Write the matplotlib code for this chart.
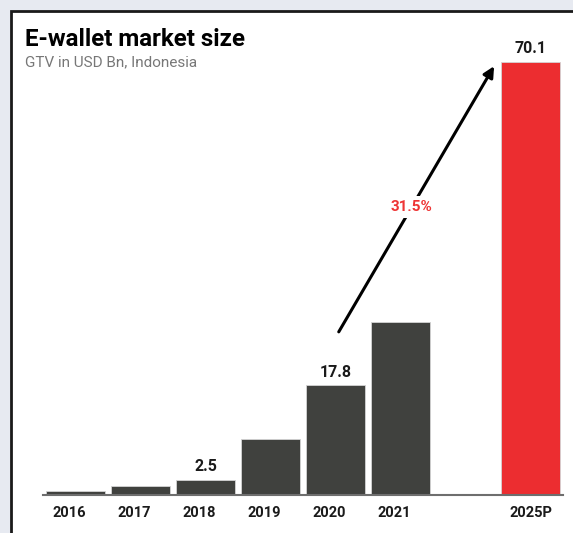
import matplotlib
matplotlib.use('Agg')
import matplotlib.pyplot as plt
from matplotlib.patches import Rectangle
from matplotlib.transforms import ScaledTranslation

# Data
years = ['2016', '2017', '2018', '2019', '2020', '2021', '2025P']
positions = [0, 1, 2, 3, 4, 5, 7]
gtv = [0.7, 1.4, 2.5, 9.0, 17.8, 28.0, 70.1]
labelled = ['2018', '2020', '2025P']
cagr_label = '31.5%'
arrow_start = (4.05, 26.4)
arrow_end = (6.44, 69.4)

plt.rcParams['font.family'] = ['Roboto', 'DejaVu Sans']

W, H = 573, 533
fig = plt.figure(figsize=(W / 100, H / 100), dpi=100)
fig.patch.set_facecolor('#e7eaf1')

# white card with a dark border on top and left
card = Rectangle((10.5 / W, -0.1), 1.2, (H - 11) / H + 0.1, transform=fig.transFigure,
                 facecolor='white', edgecolor='#1a1a1a', linewidth=2, zorder=-1)
fig.patches.append(card)

ax = fig.add_axes([43 / W, 38 / H, 520 / W, 482 / H])
ax.set_facecolor('none')
ax.set_zorder(2)

colors = ['#40413e'] * 6 + ['#ec2d30']
ax.bar(positions, gtv, width=0.9, color=colors, edgecolor='#d4d4d4', linewidth=0.6, zorder=2)

for pos, yr, val in zip(positions, years, gtv):
    if yr in labelled:
        ax.annotate(f'{val}', (pos, val), xytext=(0, 6), textcoords='offset points',
                    ha='center', va='baseline', fontsize=11.5, fontweight='bold', color='#1a1a1a')

ax.set_xlim(-0.5, 7.5)
ax.set_ylim(0, 78)
ax.set_xticks(positions)
ax.set_xticklabels(years, fontsize=10.5, fontweight='bold', color='#1a1a1a')
ax.tick_params(axis='x', length=0, pad=8)
# labels in the original sit a little left of the bar centres
for lbl in ax.get_xticklabels()[:-1]:
    lbl.set_transform(lbl.get_transform() + ScaledTranslation(-6 / 100, 0, fig.dpi_scale_trans))
ax.set_yticks([])
for s in ['top', 'right', 'left']:
    ax.spines[s].set_visible(False)
ax.spines['bottom'].set_color('#6e6e6e')
ax.spines['bottom'].set_linewidth(1.5)

# growth arrow
ax.annotate('', xy=arrow_end, xytext=arrow_start,
            arrowprops=dict(arrowstyle='-|>', color='black', lw=2.2, mutation_scale=16,
                            shrinkA=0, shrinkB=0), zorder=3)
mid_x = (arrow_start[0] + arrow_end[0]) / 2 - 0.07
mid_y = (arrow_start[1] + arrow_end[1]) / 2 - 1.3
ax.text(mid_x, mid_y, cagr_label, ha='center', va='center', fontsize=11, fontweight='bold',
        color='#ee3535', zorder=4,
        bbox=dict(facecolor='white', edgecolor='none', pad=3))

fig.text(25 / W, 1 - 46 / H, 'E-wallet market size', fontsize=17.4, fontweight='bold',
         color='black', ha='left', va='baseline')
fig.text(25 / W, 1 - 66.5 / H, 'GTV in USD Bn, Indonesia', fontsize=11,
         color='#777777', ha='left', va='baseline')

fig.savefig('out.png', dpi=100)
